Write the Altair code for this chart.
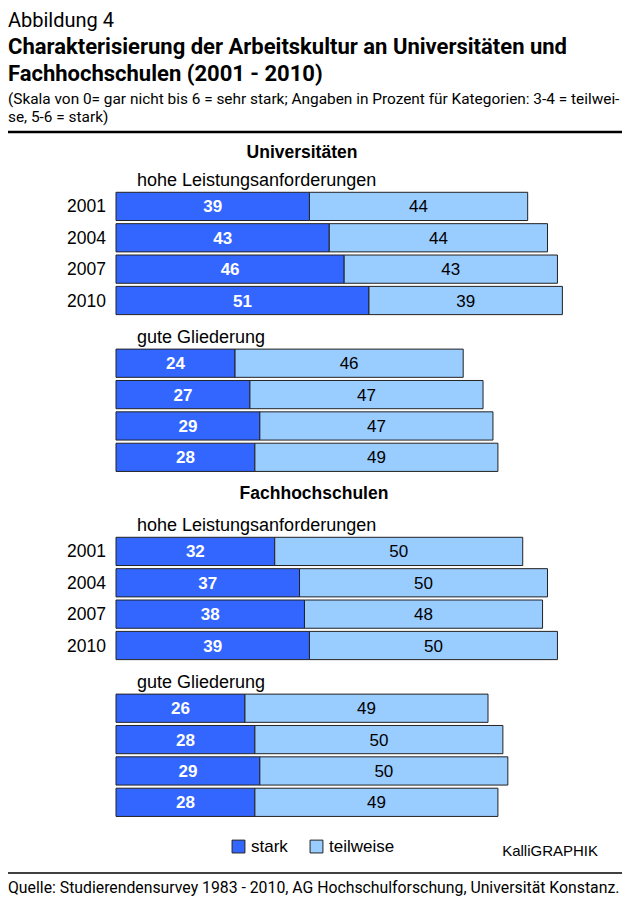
import altair as alt
import pandas as pd

# ---------------- data ----------------
years = ["2001", "2004", "2007", "2010"]
sections = ["Universitäten", "Fachhochschulen"]
items = ["hohe Leistungsanforderungen", "gute Gliederung"]
categories = ["stark", "teilweise"]

uni_hohe_stark = [39, 43, 46, 51]
uni_hohe_teil = [44, 44, 43, 39]
uni_glied_stark = [24, 27, 29, 28]
uni_glied_teil = [46, 47, 47, 49]
fh_hohe_stark = [32, 37, 38, 39]
fh_hohe_teil = [50, 50, 48, 50]
fh_glied_stark = [26, 28, 29, 28]
fh_glied_teil = [49, 50, 50, 49]

header_top = "Abbildung 4"
title_lines = ["Charakterisierung der Arbeitskultur an Universitäten und",
               "Fachhochschulen (2001 - 2010)"]
subtitle_lines = ["(Skala von 0= gar nicht bis 6 = sehr stark; Angaben in Prozent für Kategorien: 3-4 = teilwei-",
                  "se, 5-6 = stark)"]
credit = "KalliGRAPHIK"
source = "Quelle: Studierendensurvey 1983 - 2010, AG Hochschulforschung, Universität Konstanz."

series = {
    ("Universitäten", "hohe Leistungsanforderungen"): (uni_hohe_stark, uni_hohe_teil),
    ("Universitäten", "gute Gliederung"): (uni_glied_stark, uni_glied_teil),
    ("Fachhochschulen", "hohe Leistungsanforderungen"): (fh_hohe_stark, fh_hohe_teil),
    ("Fachhochschulen", "gute Gliederung"): (fh_glied_stark, fh_glied_teil),
}

# ---------------- tables ----------------
row_order, head_rows, bar_rows, year_rows = [], [], [], []
for s in sections:
    rk = s
    row_order.append(rk)
    head_rows.append({"row": rk, "text": s, "kind": "section"})
    for it in items:
        rk = f"{s}|{it}"
        row_order.append(rk)
        head_rows.append({"row": rk, "text": it, "kind": "item"})
        st, tw = series[(s, it)]
        for i, y in enumerate(years):
            rk = f"{s}|{it}|{y}"
            row_order.append(rk)
            bar_rows.append({"row": rk, "cat": "stark", "start": 0, "end": st[i],
                             "mid": st[i] / 2, "value": st[i]})
            bar_rows.append({"row": rk, "cat": "teilweise", "start": st[i], "end": st[i] + tw[i],
                             "mid": st[i] + tw[i] / 2, "value": tw[i]})
            if it == items[0]:
                year_rows.append({"row": rk, "year": y})

heads = pd.DataFrame(head_rows)
bars = pd.DataFrame(bar_rows)
yrs = pd.DataFrame(year_rows)
dummy = pd.DataFrame({"d": [0]})

FONT = "Liberation Sans"
HFONT = "Roboto"

yscale = alt.Scale(domain=row_order, paddingInner=0.1, paddingOuter=0.05)
xscale = alt.Scale(domain=[0, 100])
Y = alt.Y("row:N", scale=yscale, axis=None)

bar_layer = alt.Chart(bars).mark_bar(stroke="#222222", strokeWidth=1).encode(
    x=alt.X("start:Q", scale=xscale, axis=None),
    x2="end:Q",
    y=Y,
    color=alt.Color("cat:N",
                    scale=alt.Scale(domain=categories, range=["#3366FF", "#99CCFF"]),
                    legend=alt.Legend(title=None, orient="none", direction="horizontal",
                                      legendX=114, legendY=710, symbolType="square",
                                      symbolSize=165, symbolStrokeColor="#222222",
                                      symbolStrokeWidth=1, symbolOpacity=1,
                                      labelFont=FONT, labelFontSize=17, labelColor="#000000",
                                      columnPadding=20, labelOffset=4, padding=0)),
)

txt_stark = alt.Chart(bars).transform_filter(alt.datum.cat == "stark").mark_text(
    font=FONT, fontSize=17, fontWeight="bold", color="white", dy=1).encode(
    x=alt.X("mid:Q", scale=xscale), y=Y, text="value:Q")

txt_teil = alt.Chart(bars).transform_filter(alt.datum.cat == "teilweise").mark_text(
    font=FONT, fontSize=17, color="black", dy=1).encode(
    x=alt.X("mid:Q", scale=xscale), y=Y, text="value:Q")

years_layer = alt.Chart(yrs).mark_text(font=FONT, fontSize=17.5, align="right", color="black", dy=1).encode(
    x=alt.value(-10), y=Y, text="year:N")

item_layer = alt.Chart(heads).transform_filter(alt.datum.kind == "item").mark_text(
    font=FONT, fontSize=18, align="left", dy=6, color="black").encode(
    x=alt.value(21), y=Y, text="text:N")

sec_u = alt.Chart(heads).transform_filter(alt.datum.text == sections[0]).mark_text(
    font=FONT, fontSize=17.5, fontWeight="bold", dy=9, color="black").encode(
    x=alt.value(186), y=Y, text="text:N")
sec_f = alt.Chart(heads).transform_filter(alt.datum.text == sections[1]).mark_text(
    font=FONT, fontSize=17.5, fontWeight="bold", dy=5, color="black").encode(
    x=alt.value(198), y=Y, text="text:N")


def ann(text, x, y, **kw):
    return alt.Chart(dummy).mark_text(text=text, baseline="middle", color="black", **kw).encode(
        x=alt.value(x), y=alt.value(y))


header = [
    ann(header_top, -108, -107, align="left", font=HFONT, fontSize=20),
    ann(title_lines[0], -108, -81, align="left", font=HFONT, fontSize=22, fontWeight="bold"),
    ann(title_lines[1], -108, -54, align="left", font=HFONT, fontSize=22, fontWeight="bold"),
    ann(subtitle_lines[0], -108, -29, align="left", font=HFONT, fontSize=15.4),
    ann(subtitle_lines[1], -108, -11, align="left", font=HFONT, fontSize=15.4),
    ann(credit, 482, 723, align="right", font=FONT, fontSize=15),
    ann(source, -108, 760, align="left", font=HFONT, fontSize=15.8),
]

rule_top = alt.Chart(dummy).mark_rule(color="black", strokeWidth=2.5).encode(
    x=alt.value(-108), x2=alt.value(506), y=alt.value(4))
rule_bot = alt.Chart(dummy).mark_rule(color="black", strokeWidth=1.5).encode(
    x=alt.value(-108), x2=alt.value(506), y=alt.value(745))

chart = alt.layer(
    bar_layer, txt_stark, txt_teil, years_layer, item_layer, sec_u, sec_f,
    *header, rule_top, rule_bot
).properties(
    width=496, height=690,
    padding={"left": 108, "top": 120, "right": 10, "bottom": 80},
    autosize=alt.AutoSizeParams(type="none"),
    background="white",
).configure_view(stroke=None)

chart.save("out.html", embed_options={"renderer": "svg", "actions": False})
